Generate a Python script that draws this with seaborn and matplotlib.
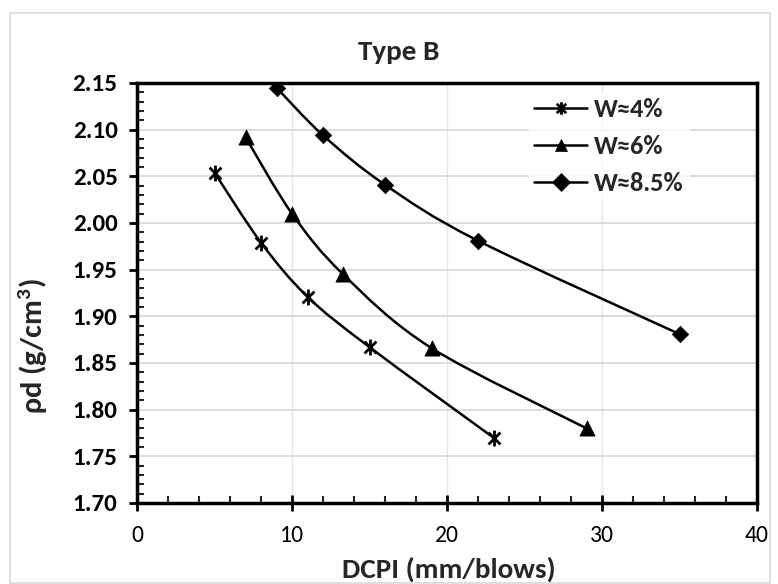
import numpy as np
import pandas as pd
import matplotlib.pyplot as plt
import seaborn as sns
from matplotlib.path import Path
from matplotlib.patches import PathPatch, Rectangle
from matplotlib.lines import Line2D
from matplotlib.ticker import MultipleLocator

# data
series_names = ["W≈4%", "W≈6%", "W≈8.5%"]
dcpi_w4 = [5, 8, 11, 15, 23]
rho_w4 = [2.054, 1.979, 1.921, 1.867, 1.770]
dcpi_w6 = [7, 10, 13.3, 19, 29]
rho_w6 = [2.092, 2.010, 1.945, 1.866, 1.780]
dcpi_w85 = [9, 12, 16, 22, 35]
rho_w85 = [2.145, 2.094, 2.041, 1.981, 1.881]

x_ticks = [0, 10, 20, 30, 40]
y_ticks = [1.70, 1.75, 1.80, 1.85, 1.90, 1.95, 2.00, 2.05, 2.10, 2.15]

frames = []
for name, xs, ys in zip(series_names, [dcpi_w4, dcpi_w6, dcpi_w85], [rho_w4, rho_w6, rho_w85]):
    frames.append(pd.DataFrame({"DCPI": xs, "rho": ys, "series": name}))
df = pd.concat(frames, ignore_index=True)

sns.set_theme(style="white")
plt.rcParams['font.family'] = ['Carlito', 'DejaVu Sans']
plt.rcParams['mathtext.fontset'] = 'custom'
plt.rcParams['mathtext.bf'] = 'Carlito:bold'
plt.rcParams['mathtext.rm'] = 'Carlito'

# excel style star: an x with a vertical bar
star = Path([(0, -1), (0, 1), (-0.75, -0.75), (0.75, 0.75), (-0.75, 0.75), (0.75, -0.75)],
            [Path.MOVETO, Path.LINETO] * 3)
marker_map = {"W≈4%": star, "W≈6%": "^", "W≈8.5%": "D"}
size_map = {"W≈4%": 130, "W≈6%": 120, "W≈8.5%": 70}


def smooth_path(xs, ys):
    # excel-like smoothed line: cubic bezier through the points
    p = np.column_stack([xs, ys]).astype(float)
    n = len(p)
    verts = [p[0]]
    codes = [Path.MOVETO]
    for i in range(n - 1):
        p0 = p[i - 1] if i > 0 else p[i]
        p3 = p[i + 2] if i + 2 < n else p[i + 1]
        c1 = p[i] + (p[i + 1] - p0) / 6.0
        c2 = p[i + 1] - (p3 - p[i]) / 6.0
        verts += [c1, c2, p[i + 1]]
        codes += [Path.CURVE4] * 3
    return Path(verts, codes)


fig = plt.figure(figsize=(7.78, 5.84), dpi=100)
fig.patches.append(Rectangle((10 / 778, 0.002), 760 / 778, 1 - 13 / 584 - 0.002,
                             transform=fig.transFigure, fill=False,
                             edgecolor="#d9d9d9", linewidth=1.2))
ax = fig.add_axes([137 / 778, 1 - 503 / 584, 620 / 778, 420 / 584])

for xs, ys in zip([dcpi_w4, dcpi_w6, dcpi_w85], [rho_w4, rho_w6, rho_w85]):
    ax.add_patch(PathPatch(smooth_path(xs, ys), facecolor="none",
                           edgecolor="black", linewidth=1.8, zorder=3))

for name in series_names:
    sub = df[df["series"] == name]
    sns.scatterplot(data=sub, x="DCPI", y="rho", marker=marker_map[name],
                    s=size_map[name], color="black", edgecolor="black",
                    linewidth=2 if name == "W≈4%" else 0.5, ax=ax,
                    zorder=4, legend=False)

ax.set_xlim(0, 40)
ax.set_ylim(1.70, 2.15)
ax.set_xticks(x_ticks)
ax.set_yticks(y_ticks)
ax.set_yticklabels([f"{v:.2f}" for v in y_ticks])
ax.xaxis.set_minor_locator(MultipleLocator(2))
ax.yaxis.set_minor_locator(MultipleLocator(0.01))
ax.grid(True, which="major", axis="y", color="#d9d9d9", linewidth=1.3)
ax.grid(True, which="major", axis="x", color="#e6e6e6", linewidth=1.0)
ax.set_axisbelow(True)

for sp in ax.spines.values():
    sp.set_visible(True)
    sp.set_color("black")
    sp.set_linewidth(2.5)

ax.tick_params(which="both", bottom=True, left=True, top=False, right=False)
ax.tick_params(axis="x", which="major", direction="inout", length=11, width=2,
               pad=10, labelsize=17, colors="black")
ax.tick_params(axis="x", which="minor", direction="in", length=5, width=1.5)
ax.tick_params(axis="y", which="major", direction="out", length=6, width=2,
               pad=8, labelsize=18, colors="black")
ax.tick_params(axis="y", which="minor", direction="in", length=5, width=1.5)
for lab in ax.get_yticklabels():
    lab.set_fontweight("bold")

ax.set_xlabel("")
ax.set_ylabel("")
fig.text(449 / 778, 1 - 569 / 584, "DCPI (mm/blows)", ha="center", va="center",
         fontsize=21, fontweight="bold")
fig.text(33 / 778, 1 - 346 / 584, "ρd (g/cm$^\\mathbf{3}$)", ha="center", va="center",
         rotation=90, fontsize=22, fontweight="bold")
fig.text(399 / 778, 1 - 52 / 584, "Type B", ha="center", va="center",
         fontsize=21, fontweight="bold")

handles = [Line2D([], [], color="black", linewidth=1.8, marker=marker_map[n],
                  markersize=9,
                  markeredgewidth=2 if n == "W≈4%" else 0.5,
                  markerfacecolor="black", markeredgecolor="black")
           for n in series_names]
leg = ax.legend(handles, series_names, loc="upper left",
                bbox_to_anchor=(516 / 778, 1 - 80 / 584),
                bbox_transform=fig.transFigure, frameon=True, fancybox=False,
                handlelength=2.0, handletextpad=0.25, labelspacing=0.52,
                borderpad=0.2, prop={"family": ["Carlito", "DejaVu Sans"],
                                     "weight": "bold", "size": 19})
leg.get_frame().set_facecolor("white")
leg.get_frame().set_edgecolor("white")

fig.savefig("out.png", dpi=100)
